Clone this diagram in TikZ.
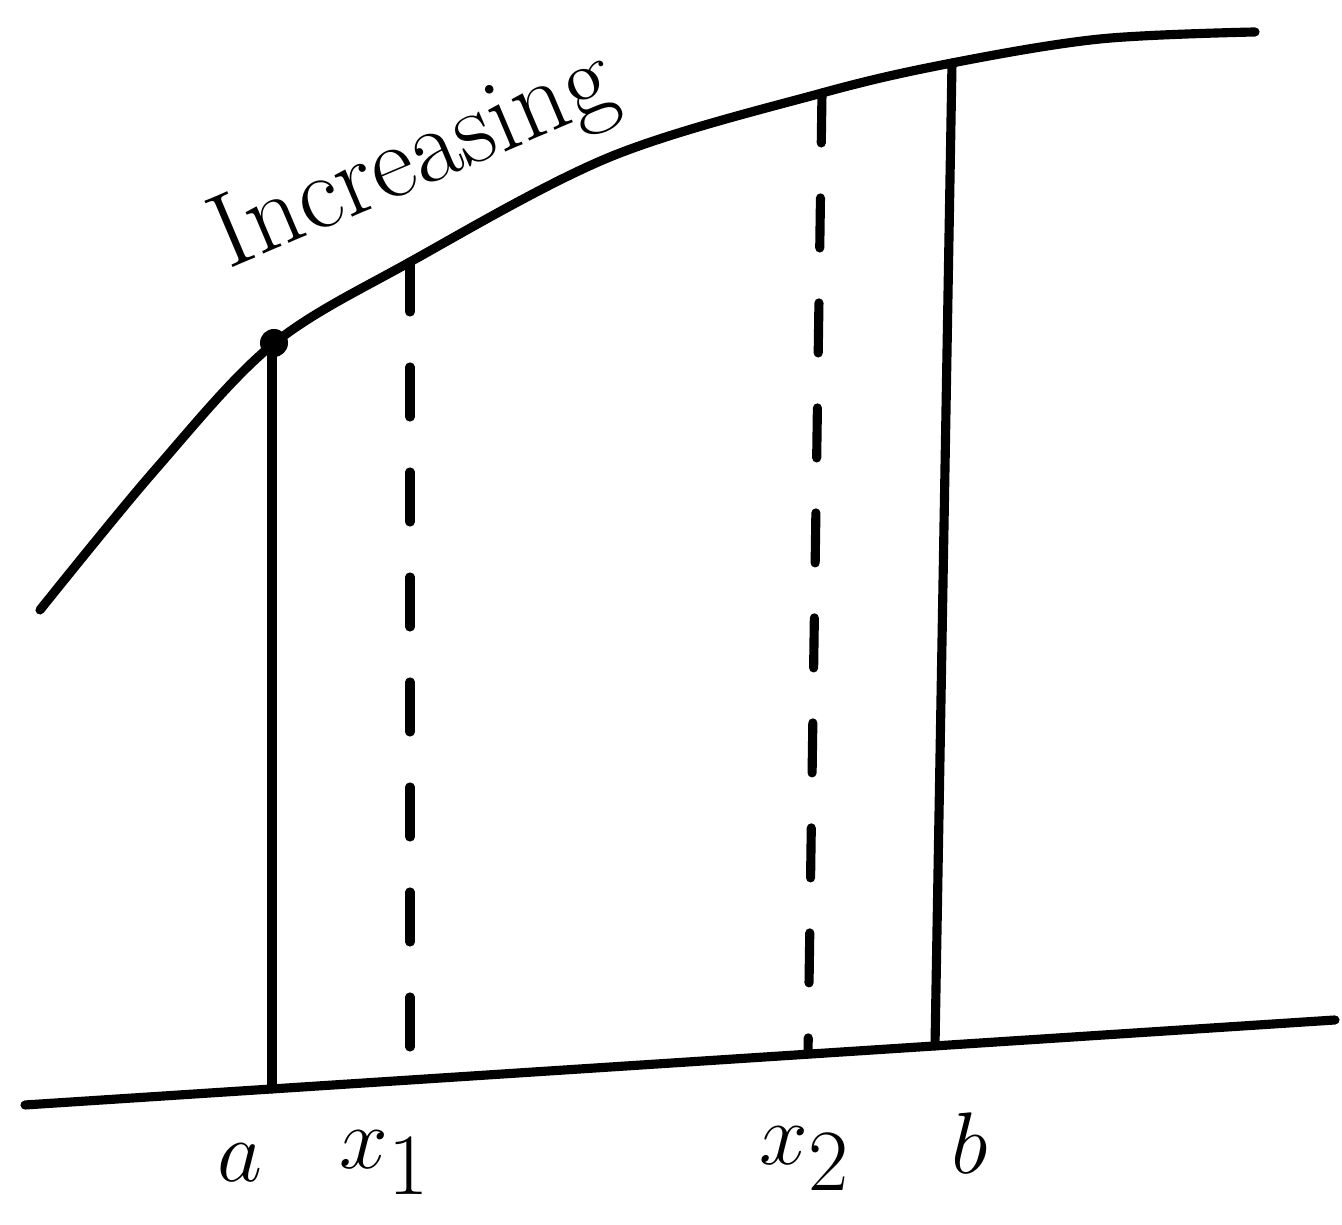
\documentclass[tikz,border=0pt]{standalone}
\usepackage{tikz}
\usetikzlibrary{positioning}

\begin{document}
\begin{tikzpicture}[
		line cap=round,
		curve/.style={line width=2.6pt},
		guide/.style={line width=2.6pt, dash pattern=on 0.5cm off 0.55cm},
		lbl/.style={font=\fontsize{50}{56}\selectfont, inner sep=0pt}
		]
		
		\useasboundingbox (0,0) rectangle (13.42,12.25);
		
		%--------------------------------------------------
		% Points
		%--------------------------------------------------
		
		\coordinate (ax0) at (0.25,1.20);
		\coordinate (ax1) at (13.35,2.05);
		
		\coordinate (ta) at (2.72,8.80);
		\coordinate (fa) at (2.72,1.36);
		\coordinate (t1) at (4.10,9.63);
		\coordinate (f1) at (4.10,1.45);
		\coordinate (t2) at (8.22,11.32);
		\coordinate (f2) at (8.08,1.71);
		\coordinate (tb) at (9.52,11.62);
		\coordinate (fb) at (9.35,1.79);
		
		%--------------------------------------------------
		% Curve and axis
		%--------------------------------------------------
		
		\draw[curve] plot[smooth, tension=0.55] coordinates
		{(0.40,6.15) (1.55,7.55) (2.72,8.80) (4.10,9.63) (6.10,10.68)
			(8.22,11.32) (9.52,11.62) (11.00,11.86) (12.55,11.93)};
		
		\draw[curve] (ax0) -- (ax1);
		
		%--------------------------------------------------
		% Ordinates
		%--------------------------------------------------
		
		\draw[curve] (ta) -- (fa);
		\draw[guide] (t1) -- (f1);
		\draw[guide] (t2) -- (f2);
		\draw[curve] (tb) -- (fb);
		
		\fill (2.74,8.82) circle (0.14);
		
		%--------------------------------------------------
		% Labels
		%--------------------------------------------------
		
		\node[lbl] (la) at (2.40,0.62) {$a$};
		\node[lbl] (lx1) at (3.85,0.62) {$x_1$};
		\node[lbl] (lx2) at (8.05,0.66) {$x_2$};
		\node[lbl, font=\fontsize{56}{60}\selectfont] (lb) at (9.70,0.82) {$b$};
		
		\node[font=\fontsize{30}{34}\selectfont, rotate=23] (inc) at (4.15,10.62)
		{Increasing};
		
	\end{tikzpicture}
\end{document}
